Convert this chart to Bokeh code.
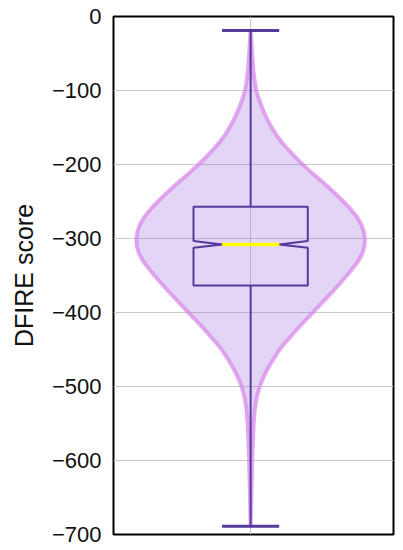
from bokeh.plotting import figure
from bokeh.models import Range1d, FixedTicker
from bokeh.embed import file_html
from bokeh.resources import INLINE

# --- data ---
# violin profile: score value and half-width (max = 114)
vals = [-19, -30, -45, -60, -75, -90, -100, -110, -120, -130, -140, -150,
        -160, -170, -180, -190, -200, -210, -220, -230, -240, -250, -260,
        -270, -280, -290, -300, -310, -320, -330, -340, -350, -360, -370,
        -380, -390, -400, -410, -420, -430, -440, -450, -460, -470, -480,
        -490, -500, -515, -530, -550, -575, -600, -630, -660, -689]
dens_px = [0, 0.6, 1.2, 2, 2.9, 4.3, 5.5, 7.8, 10.5, 13.5, 17, 21,
           25.5, 31, 37.5, 44.5, 52, 60, 68.5, 77, 85, 92.5, 99.5,
           105.5, 110, 112.8, 114, 113.5, 111.5, 107.5, 102, 96, 89.5, 83,
           76, 69, 62, 55, 48, 41.5, 35, 29, 24, 19.5, 15.5,
           12, 9, 6, 4.2, 3, 2.2, 1.5, 1, 0.5, 0]
density = [d / 114.0 for d in dens_px]

whisker_hi = -19
whisker_lo = -689
q3 = -257
q1 = -363.5
median = -308
notch_hi = -303.5
notch_lo = -312.5

yticks = [0, -100, -200, -300, -400, -500, -600, -700]

# --- styling / geometry (not data) ---
VW = 0.4   # violin half width in x units
BW = 0.2   # box half width
NW = 0.1   # notch half width
CW = 0.1   # whisker cap half width

p = figure(width=397, height=548, output_backend="svg", toolbar_location=None,
           x_range=Range1d(-0.48, 0.5), y_range=Range1d(-700, 0),
           min_border_left=113, min_border_right=4, min_border_top=16,
           min_border_bottom=14)
p.background_fill_color = "white"
p.border_fill_color = "white"
p.outline_line_color = "black"
p.outline_line_width = 2
p.xaxis.visible = False

p.yaxis.ticker = FixedTicker(ticks=yticks)
p.yaxis.axis_label = "DFIRE score"
p.yaxis.axis_label_text_font = "Liberation Sans"
p.yaxis.axis_label_text_font_size = "25px"
p.yaxis.axis_label_text_font_style = "normal"
p.yaxis.axis_label_text_color = "#111111"
p.yaxis.axis_label_standoff = 11
p.yaxis.major_label_text_font = "Liberation Sans"
p.yaxis.major_label_text_font_size = "22px"
p.yaxis.major_label_text_color = "#111111"
p.yaxis.major_label_standoff = 12
p.yaxis.major_tick_out = 0
p.yaxis.major_tick_in = 0
p.yaxis.minor_tick_out = 0
p.yaxis.minor_tick_in = 0
p.yaxis.axis_line_color = None

p.ygrid.grid_line_color = "#c8c8c8"
p.ygrid.grid_line_width = 1
p.xgrid.ticker = FixedTicker(ticks=[0])
p.xgrid.grid_line_color = "#c8c8c8"
p.xgrid.grid_line_width = 1

# violin
xs = [-d * VW for d in density] + [d * VW for d in reversed(density)]
ys = vals + list(reversed(vals))
p.patch(xs, ys, fill_color="#9b69de", fill_alpha=0.28,
        line_color="#d98aea", line_width=4, line_alpha=0.75,
        line_join="round")

# whiskers
box_color = "#553a9c"
p.segment(x0=[0, 0], y0=[q3, q1], x1=[0, 0], y1=[whisker_hi, whisker_lo],
          line_color=box_color, line_width=2)
p.segment(x0=[-CW, -CW], y0=[whisker_hi, whisker_lo], x1=[CW, CW],
          y1=[whisker_hi, whisker_lo], line_color=box_color, line_width=3)

# notched box
bx = [-BW, BW, BW, NW, BW, BW, -BW, -BW, -NW, -BW]
by = [q3, q3, notch_hi, median, notch_lo, q1, q1, notch_lo, median, notch_hi]
p.patch(bx, by, fill_color=None, line_color=box_color, line_width=2)

# median
p.segment(x0=[-NW], y0=[median], x1=[NW], y1=[median],
          line_color="#ffff00", line_width=3.5)

open("out.html", "w").write(file_html(p, INLINE))
